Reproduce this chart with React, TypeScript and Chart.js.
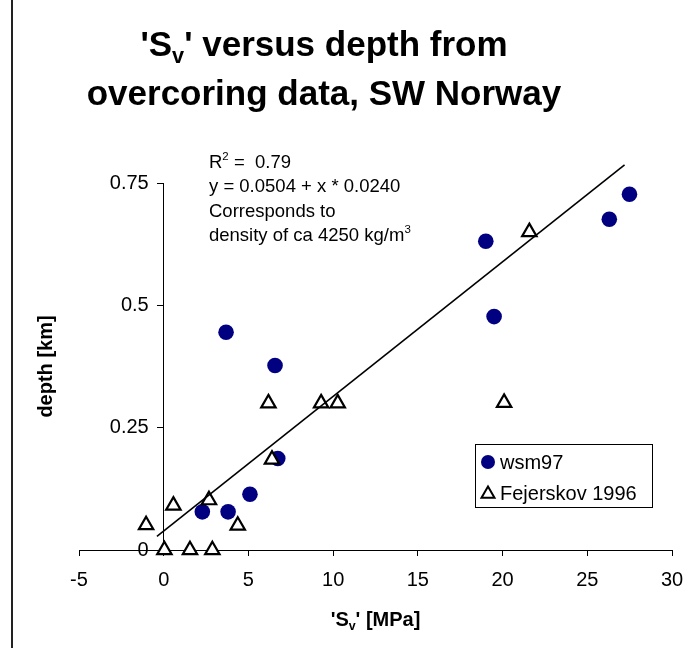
import React, { useEffect, useRef } from 'react';
import { Chart, registerables } from 'chart.js';

Chart.register(...registerables);

// ---- data ----
const wsm97X = [3.68, 6.57, 6.73, 5.09, 2.28, 3.8, 19.01, 19.5, 26.3, 27.49];
const wsm97Y = [0.445, 0.377, 0.187, 0.114, 0.078, 0.078, 0.631, 0.477, 0.676, 0.727];
const fejX = [6.18, 9.29, 10.27, 6.39, 2.67, 0.57, 4.37, -1.04, 0.04, 1.55, 2.87, 21.58, 20.09];
const fejY = [0.3, 0.3, 0.3, 0.185, 0.102, 0.091, 0.05, 0.051, 0, 0, 0, 0.65, 0.301];
const fitX = [-0.4, 27.2];
const fitY = [0.028, 0.787];
const xRange = [-5, 30];
const yRange = [0, 0.75];
const xStep = 5;
const yTickValues = [0, 0.25, 0.5, 0.75];
const yTickLabels = ['0', '0.25', '0.5', '0.75'];
const seriesNames = ['wsm97', 'Fejerskov 1996'];
const annotationLines = ['R|2| =  0.79', 'y = 0.0504 + x * 0.0240', 'Corresponds to', 'density of ca 4250 kg/m|3|'];

const FONT = '"Liberation Sans", Arial, Helvetica, sans-serif';
const NAVY = '#000080';

type Part = { t: string; size: number; bold?: boolean; dy?: number };

function partsWidth(ctx: CanvasRenderingContext2D, parts: Part[]) {
  let w = 0;
  for (const p of parts) {
    ctx.font = `${p.bold ? 'bold ' : ''}${p.size}px ${FONT}`;
    w += ctx.measureText(p.t).width;
  }
  return w;
}

function drawParts(ctx: CanvasRenderingContext2D, parts: Part[], x: number, y: number, align: 'left' | 'center') {
  const w = partsWidth(ctx, parts);
  let cx = align === 'center' ? x - w / 2 : x;
  ctx.textAlign = 'left';
  ctx.textBaseline = 'alphabetic';
  for (const p of parts) {
    ctx.font = `${p.bold ? 'bold ' : ''}${p.size}px ${FONT}`;
    ctx.fillText(p.t, cx, y + (p.dy || 0));
    cx += ctx.measureText(p.t).width;
  }
}

function supParts(line: string, size: number): Part[] {
  const segs = line.split('|');
  return segs.map((s, i) =>
    i % 2 === 1 ? { t: s, size: size * 0.62, dy: -size * 0.42 } : { t: s, size }
  );
}

const textPlugin = {
  id: 'textPlugin',
  afterDraw(chart: any) {
    const ctx: CanvasRenderingContext2D = chart.ctx;
    const area = chart.chartArea;
    const xs = chart.scales.x;
    const ys = chart.scales.y;
    ctx.save();
    ctx.fillStyle = '#000';

    // y tick labels
    const axisX = xs.getPixelForValue(0);
    ctx.font = `20px ${FONT}`;
    ctx.textAlign = 'right';
    ctx.textBaseline = 'middle';
    yTickValues.forEach((v, i) => {
      ctx.fillText(yTickLabels[i], axisX - 15, ys.getPixelForValue(v));
    });

    // title
    const ts = 35;
    drawParts(
      ctx,
      [
        { t: "'S", size: ts, bold: true },
        { t: 'v', size: ts * 0.62, bold: true, dy: ts * 0.2 },
        { t: "' versus depth from", size: ts, bold: true },
      ],
      324,
      56,
      'center'
    );
    drawParts(ctx, [{ t: 'overcoring data, SW Norway', size: ts, bold: true }], 324, 105, 'center');

    // annotation
    const as = 18.5;
    annotationLines.forEach((l, i) => {
      drawParts(ctx, supParts(l, as), 209, 168 + i * 24.4, 'left');
    });

    // x axis title
    const ax = 20;
    drawParts(
      ctx,
      [
        { t: "'S", size: ax, bold: true },
        { t: 'v', size: ax * 0.62, bold: true, dy: ax * 0.2 },
        { t: "' [MPa]", size: ax, bold: true },
      ],
      (area.left + area.right) / 2,
      626,
      'center'
    );

    // y axis title
    ctx.save();
    ctx.translate(52, (area.top + area.bottom) / 2);
    ctx.rotate(-Math.PI / 2);
    drawParts(ctx, [{ t: 'depth [km]', size: ax, bold: true }], 0, 0, 'center');
    ctx.restore();

    // legend
    const lx = 475.5, ly = 444.5, lw = 177, lh = 63;
    ctx.fillStyle = '#fff';
    ctx.fillRect(lx, ly, lw, lh);
    ctx.strokeStyle = '#000';
    ctx.lineWidth = 1;
    ctx.strokeRect(lx, ly, lw, lh);
    const ds = chart.data.datasets;
    ctx.fillStyle = ds[2].backgroundColor;
    ctx.beginPath();
    ctx.arc(488, 462, 7, 0, Math.PI * 2);
    ctx.fill();
    const r = 7.5;
    const tx = 488, ty = 494;
    ctx.beginPath();
    for (let k = 0; k < 3; k++) {
      const a = (k * 2 * Math.PI) / 3;
      const px = tx + Math.sin(a) * r;
      const py = ty - Math.cos(a) * r;
      if (k === 0) ctx.moveTo(px, py);
      else ctx.lineTo(px, py);
    }
    ctx.closePath();
    ctx.fillStyle = '#fff';
    ctx.fill();
    ctx.lineWidth = 2;
    ctx.strokeStyle = '#000';
    ctx.stroke();
    ctx.fillStyle = '#000';
    ctx.font = `20px ${FONT}`;
    ctx.textBaseline = 'middle';
    ctx.textAlign = 'left';
    ctx.fillText(ds[2].label, 500, 463);
    ctx.fillText(ds[1].label, 500, 494);
    ctx.restore();
  },
};

export default function App() {
  const ref = useRef<HTMLCanvasElement | null>(null);
  useEffect(() => {
    if (!ref.current) return;
    const chart = new Chart(ref.current, {
      type: 'scatter',
      data: {
        datasets: [
          {
            type: 'line',
            label: 'fit',
            data: fitX.map((x, i) => ({ x, y: fitY[i] })),
            borderColor: '#000',
            borderWidth: 1.6,
            pointRadius: 0,
            fill: false,
            order: 0,
            clip: false,
          } as any,
          {
            label: seriesNames[1],
            data: fejX.map((x, i) => ({ x, y: fejY[i] })),
            pointStyle: 'triangle',
            pointRadius: 8.3,
            backgroundColor: '#fff',
            borderColor: '#000',
            borderWidth: 2.2,
            order: 1,
            clip: false,
          },
          {
            label: seriesNames[0],
            data: wsm97X.map((x, i) => ({ x, y: wsm97Y[i] })),
            pointStyle: 'circle',
            pointRadius: 7.8,
            backgroundColor: NAVY,
            borderColor: NAVY,
            borderWidth: 0,
            order: 2,
            clip: false,
          },
        ],
      },
      options: {
        animation: false,
        responsive: false,
        devicePixelRatio: 1,
        layout: { padding: { left: 79, right: 24, top: 183, bottom: 48 } },
        plugins: { legend: { display: false }, tooltip: { enabled: false }, title: { display: false } },
        scales: {
          x: {
            type: 'linear',
            position: 'bottom',
            min: xRange[0],
            max: xRange[1],
            ticks: { stepSize: xStep, color: '#000', font: { family: FONT, size: 20 }, padding: 12, maxRotation: 0 },
            grid: { display: true, drawOnChartArea: false, drawTicks: true, tickLength: 6, color: '#000' },
            border: { display: true, color: '#000', width: 1 },
            afterFit: (s: any) => {
              s.height = 50;
            },
          },
          y: {
            type: 'linear',
            position: { x: 0 } as any,
            min: yRange[0],
            max: yRange[1],
            afterBuildTicks: (s: any) => {
              s.ticks = yTickValues.map((v) => ({ value: v }));
            },
            ticks: { display: false },
            grid: { display: true, drawOnChartArea: false, drawTicks: true, tickLength: 6, color: '#000' },
            border: { display: true, color: '#000', width: 1 },
          },
        },
      },
      plugins: [textPlugin],
    });
    return () => chart.destroy();
  }, []);

  return (
    <div style={{ position: 'fixed', left: 0, top: 0, width: 696, height: 648, background: '#fff' }}>
      <canvas ref={ref} width={696} height={648} style={{ width: 696, height: 648, display: 'block' }} />
      <div style={{ position: 'absolute', left: 11, top: 0, width: 1.5, height: 648, background: '#222' }} />
    </div>
  );
}
